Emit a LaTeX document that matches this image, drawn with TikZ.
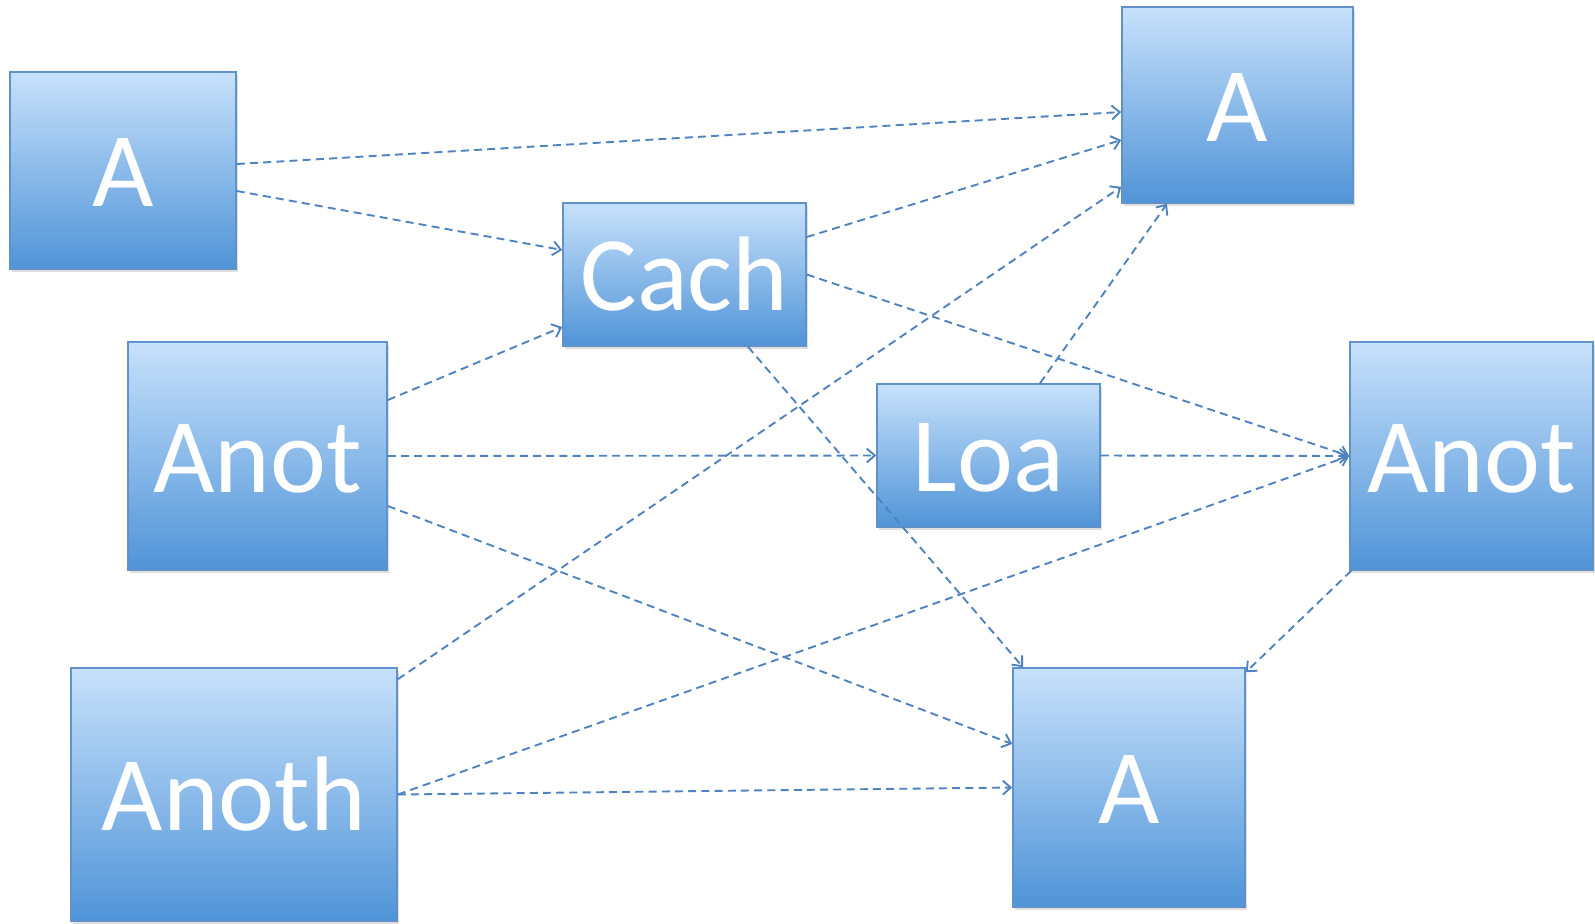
\documentclass[tikz,border=0pt]{standalone}
\usepackage{fontspec}
\setmainfont{Carlito}
\usepackage{tikz}
\usetikzlibrary{shapes,arrows,positioning,calc,shadows}
\usetikzlibrary{arrows.meta}
\definecolor{boxtop}{RGB}{199,225,251}
\definecolor{boxbot}{RGB}{80,148,216}
\definecolor{boxline}{RGB}{96,145,200}
\definecolor{flowline}{RGB}{79,131,192}
\tikzstyle{block} = [rectangle, draw=boxline, line width=0.8pt, top color=boxtop, bottom color=boxbot, text=white, font=\fontsize{53}{60}\selectfont, text height=36pt, text depth=0pt, inner sep=0pt, drop shadow={opacity=0.25, shadow xshift=1.2pt, shadow yshift=-1.5pt}]
\tikzstyle{arrow} = [draw=flowline, line width=0.95pt, dash pattern=on 4pt off 2.6pt, -{Straight Barb[length=4pt,width=7pt]}]

\begin{document}
\begin{tikzpicture}[x=0.5pt, y=-0.5pt]
    \useasboundingbox (0,0) rectangle (1595,923);

    % Nodes
    \node (a1) [block, minimum width=113pt, minimum height=98.5pt] at (123,170.5) {A};
    \node (a2) [block, minimum width=115.5pt, minimum height=98pt] at (1237.5,105) {A};
    \node (cach) [block, minimum width=121.5pt, minimum height=71.5pt] at (684.5,274.5) {Cach};
    \node (anotL) [block, minimum width=129.5pt, minimum height=114pt] at (257.5,456) {Anot};
    \node (loa) [block, minimum width=111.5pt, minimum height=71.5pt] at (988.5,455.5) {Loa};
    \node (anotR) [block, minimum width=121.5pt, minimum height=114pt] at (1471.5,456) {Anot};
    \node (anoth) [block, minimum width=163pt, minimum height=126.5pt] at (234,794.5) {Anoth};
    \node (a3) [block, minimum width=116pt, minimum height=119.5pt] at (1129,787.5) {A};

    % Arrows
    \draw[arrow] ($(a1.east)+(0,-6.5)$) -- ($(a2.west)+(0,7)$);
    \draw[arrow] ($(a1.east)+(0,20.5)$) -- ($(cach.west)+(0,-24.5)$);
    \draw[arrow] ($(cach.east)+(0,-37.5)$) -- ($(a2.west)+(0,35)$);
    \draw[arrow] ($(anoth.north east)+(0,12)$) -- ($(a2.south west)+(0,-17)$);
    \draw[arrow] ($(loa.north)+(51.5,0)$) -- ($(a2.south)+(-70.5,0)$);
    \draw[arrow] (cach.east) -- (anotR.west);
    \draw[arrow] (loa.east) -- (anotR.west);
    \draw[arrow] (anoth.east) -- (anotR.west);
    \draw[arrow] ($(anotL.east)+(0,-56)$) -- ($(cach.west)+(0,52.5)$);
    \draw[arrow] (anotL.east) -- (loa.west);
    \draw[arrow] ($(anotL.east)+(0,50)$) -- ($(a3.west)+(0,-43.5)$);
    \draw[arrow] ($(cach.south)+(63.5,0)$) -- ($(a3.north)+(-106,0)$);
    \draw[arrow] (anoth.east) -- (a3.west);
    \draw[arrow] ($(anotR.south west)+(2,0)$) -- ($(a3.north east)+(0,5)$);

\end{tikzpicture}
\end{document}
